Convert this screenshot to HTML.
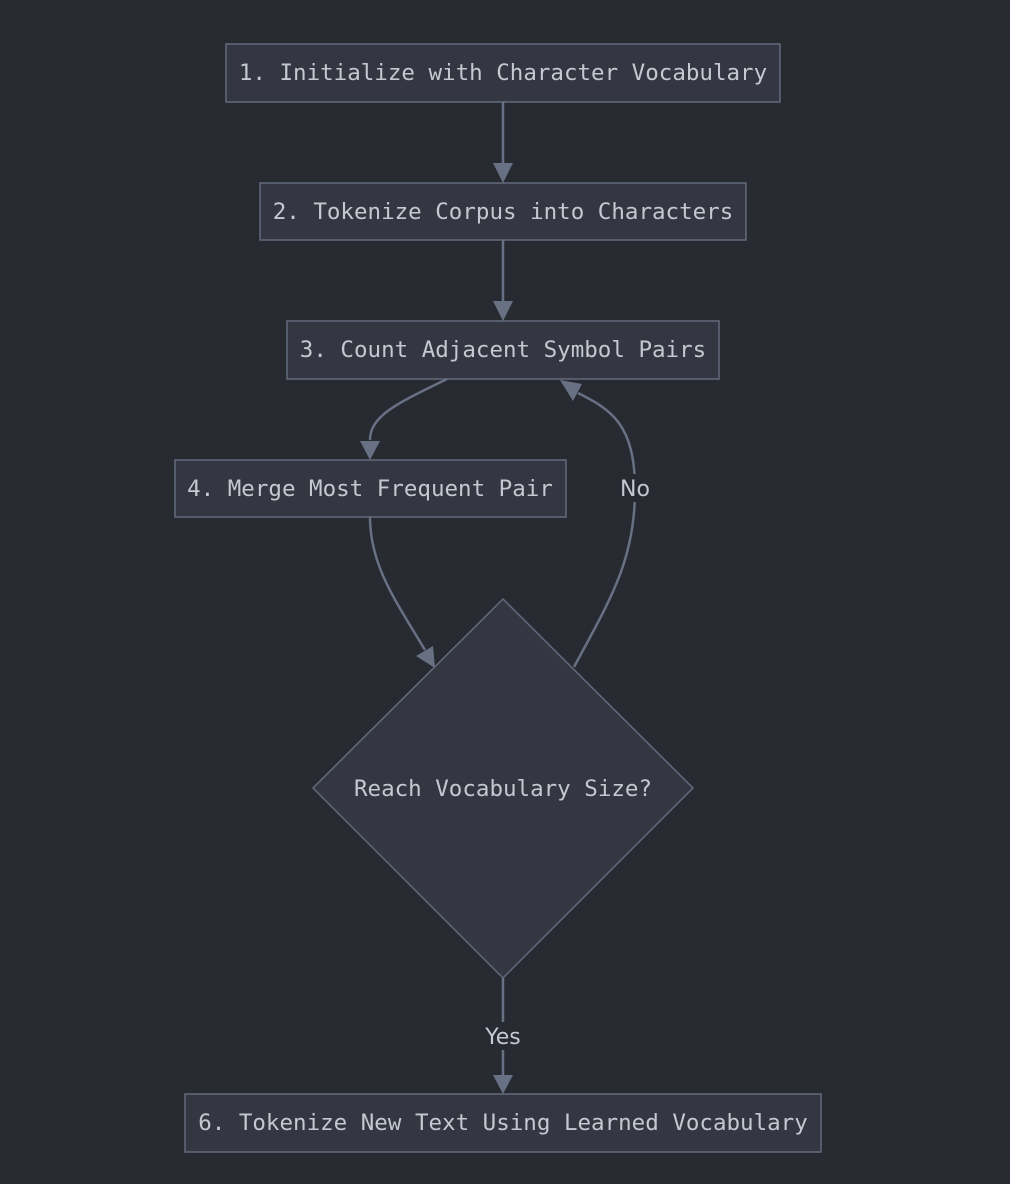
<!DOCTYPE html>
<html><head><meta charset="utf-8"><style>
html,body{margin:0;padding:0;background:#282a32;}
svg{display:block}
.n{fill:#343741;stroke:#626a7c;stroke-width:1.5}
.t{font-family:"DejaVu Sans Mono","Liberation Mono",monospace;font-size:22.5px;fill:#c4c8d0;text-anchor:middle}
.e{fill:none;stroke:#687083;stroke-width:2.5}
.l{font-family:"DejaVu Sans","Liberation Sans",sans-serif;font-size:22px;fill:#c4c8d0;text-anchor:middle}
</style></head><body>
<svg width="1010" height="1184" viewBox="0 0 1010 1184">
<rect x="0" y="0" width="1010" height="1184" fill="#282a32"/>
<rect class="n" x="226" y="44" width="554" height="58"/>
<text class="t" x="503" y="80">1. Initialize with Character Vocabulary</text>
<rect class="n" x="260" y="183" width="486" height="57"/>
<text class="t" x="503" y="219">2. Tokenize Corpus into Characters</text>
<rect class="n" x="287" y="321" width="432" height="58"/>
<text class="t" x="503" y="357">3. Count Adjacent Symbol Pairs</text>
<rect class="n" x="175" y="460" width="391" height="57"/>
<text class="t" x="370" y="496">4. Merge Most Frequent Pair</text>
<polygon class="n" points="503,599 693,788 503,978 313,788"/>
<text class="t" x="503" y="796">Reach Vocabulary Size?</text>
<rect class="n" x="185" y="1094" width="636" height="58"/>
<text class="t" x="503" y="1130">6. Tokenize New Text Using Learned Vocabulary</text>

<path class="e" d="M503,102 L503,163"/>
<polygon points="493,163 513,163 503,183" fill="#687083"/>
<path class="e" d="M503,240 L503,301"/>
<polygon points="493,301 513,301 503,321" fill="#687083"/>
<path class="e" d="M447,379 C400,402 370,415 370,440"/>
<polygon points="360,441 380,441 370,460" fill="#687083"/>
<path class="e" d="M370,517 C370,565 395,600 425,650"/>
<polygon points="416,656 433,646 435,668" fill="#687083"/>
<path class="e" d="M574,667 C610,600 635,560 635,490 C635,425 612,410 578,393"/>
<polygon points="560,380 582,384 573,401" fill="#687083"/>
<rect x="616" y="474" width="38" height="28" fill="#282a32"/>
<text class="l" x="635" y="496">No</text>
<path class="e" d="M503,978 L503,1075"/>
<polygon points="493,1075 513,1075 503,1094" fill="#687083"/>
<rect x="478" y="1022" width="50" height="28" fill="#282a32"/>
<text class="l" x="503" y="1044">Yes</text>
</svg>
</body></html>
